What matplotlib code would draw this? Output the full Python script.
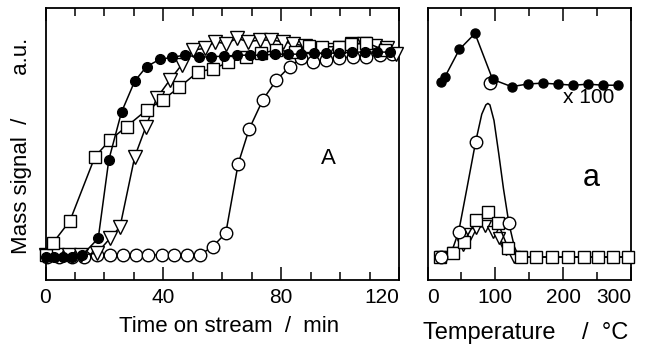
import matplotlib
matplotlib.use("Agg")
import matplotlib.pyplot as plt
from matplotlib.ticker import MultipleLocator

plt.rcParams['font.family'] = ['Liberation Sans', 'DejaVu Sans']

# ---------------- Panel A: time on stream ----------------
fc_t = [0, 3, 6, 9, 12.5, 17.9, 21.5, 25.8, 30.3, 34.3, 38.8, 43.1, 47.5, 52, 56.3,
        60.6, 65, 69.3, 73.6, 78, 82.3, 86.6, 91, 95.3, 99.6, 104, 108.3, 112.6, 117]
fc_y = [0.0, 0.0, 0.0, 0.0, 0.01, 0.09, 0.47, 0.70, 0.85, 0.92, 0.955, 0.965, 0.976, 0.965, 0.968,
        0.97, 0.975, 0.975, 0.975, 0.98, 0.98, 0.98, 0.985, 0.985, 0.985, 0.99, 0.99, 0.99, 0.99]

sq_t = [0, 2.4, 8.3, 16.8, 21.9, 27.5, 34.3, 39.9, 45.4, 51.8, 56.7, 62, 68.2, 73.3, 78.1,
        84.6, 89.4, 94, 99.8, 103.8, 108.9, 115.1]
sq_y = [0.01, 0.066, 0.175, 0.485, 0.565, 0.63, 0.71, 0.76, 0.82, 0.895, 0.908, 0.94, 0.967, 0.984, 1.0,
        0.99, 1.02, 1.016, 1.016, 1.03, 1.035, 1.0]

tr_t = [0, 4, 8, 12, 17.4, 21.9, 25.3, 30.3, 34.1, 37.7, 42.2, 46.2, 50.1, 54.1, 57.5, 61.4, 65,
        68.7, 72.7, 76.7, 80.6, 84, 88, 92, 96, 100, 104, 108, 112, 116, 119]
tr_y = [0.01, 0.01, 0.01, 0.01, 0.018, 0.09, 0.146, 0.485, 0.63, 0.767, 0.855, 0.928, 1.0, 1.008, 1.04,
        1.03, 1.057, 1.04, 1.048, 1.048, 1.04, 1.03, 1.02, 1.0, 1.0, 1.01, 1.03, 1.03, 1.02, 1.01, 0.98]

oc_t = [0.4, 4.7, 9, 13.1, 17.4, 21.9, 26.2, 30.7, 34.8, 39.4, 43.6, 47.9, 52.4, 56.7, 61.2, 65.4,
        69.1, 73.8, 78.4, 82.9, 86.8, 90.8, 95.3, 99.8, 104.3, 108.9, 113.4, 117.5]
oc_y = [0.0, 0.0, 0.0, 0.0, 0.01, 0.01, 0.01, 0.01, 0.01, 0.01, 0.01, 0.01, 0.01, 0.05, 0.115, 0.45,
        0.617, 0.76, 0.855, 0.92, 0.96, 0.943, 0.95, 0.96, 0.968, 0.968, 0.976, 0.98]

time_ticks = [0, 40, 80, 120]

# ---------------- Panel a: temperature ----------------
tfc_T = [20.5, 25.3, 47, 70, 96, 124, 148, 170, 193, 215, 237, 259, 281]
tfc_y = [0.847, 0.868, 1.003, 1.08, 0.858, 0.823, 0.836, 0.84, 0.835, 0.83, 0.835, 0.83, 0.83]

toc_T = [20, 46, 71, 92, 120]
toc_y = [0.0, 0.123, 0.557, 0.843, 0.163]
# fitted curve through open circles
fit_T = [25, 35, 46, 58, 71, 80, 86, 89, 92, 98, 105, 112, 120, 128, 135, 300]
fit_y = [0.0, 0.02, 0.123, 0.33, 0.557, 0.69, 0.735, 0.742, 0.735, 0.66, 0.5, 0.33, 0.163, 0.05, 0.0, 0.0]

tsq_T = [18, 38, 54, 72, 89, 104, 119, 138, 160, 183, 207, 230, 252, 274, 296]
tsq_y = [0.0, 0.018, 0.074, 0.18, 0.216, 0.163, 0.042, 0.0, 0.0, 0.0, 0.0, 0.0, 0.0, 0.0, 0.0]

ttr_T = [20, 37, 52, 62, 72, 85, 97, 106, 116, 127, 138]
ttr_y = [0.0, 0.02, 0.06, 0.11, 0.14, 0.15, 0.12, 0.09, 0.04, 0.0, 0.0]

temp_ticks = [0, 100, 200, 300]

fig = plt.figure(figsize=(6.54, 3.47), dpi=100)
axA = fig.add_axes([45.5 / 654, 1 - 280 / 347, (399 - 45.5) / 654, 272 / 347])
axa = fig.add_axes([427.5 / 654, 1 - 280 / 347, (631 - 427.5) / 654, 272 / 347])

lw = 1.1
mew = 1.0
k = 'black'

axA.plot(oc_t, oc_y, '-', color=k, lw=lw, marker='o', ms=9, mfc='white', mec=k, mew=mew, clip_on=False, zorder=2)
axA.plot(tr_t, tr_y, '-', color=k, lw=lw, marker='v', ms=9.5, mfc='white', mec=k, mew=mew, clip_on=False, zorder=3)
axA.plot(sq_t, sq_y, '-', color=k, lw=lw, marker='s', ms=8, mfc='white', mec=k, mew=mew, clip_on=False, zorder=4)
axA.plot(fc_t, fc_y, '-', color=k, lw=lw, marker='o', ms=7, mfc=k, mec=k, mew=mew, clip_on=False, zorder=5)

axa.plot(fit_T, fit_y, '-', color=k, lw=lw, zorder=2)
axa.plot(ttr_T, ttr_y, '-', color=k, lw=lw, marker='v', ms=9, mfc='white', mec=k, mew=mew, clip_on=False, zorder=3)
axa.plot(tsq_T, tsq_y, '-', color=k, lw=lw, marker='s', ms=8, mfc='white', mec=k, mew=mew, clip_on=False, zorder=4)
axa.plot(toc_T, toc_y, 'o', ms=9, mfc='white', mec=k, mew=mew, clip_on=False, zorder=5)
axa.plot(tfc_T, tfc_y, '-', color=k, lw=lw, marker='o', ms=6.5, mfc=k, mec=k, mew=mew, clip_on=False, zorder=6)

for ax in (axA, axa):
    ax.set_ylim(-0.111, 1.203)
    ax.set_yticks([])
    for s in ax.spines.values():
        s.set_linewidth(1.3)
    ax.tick_params(axis='x', which='both', direction='in', top=True, bottom=True,
                   labelsize=15, width=1.1, pad=6)
    ax.tick_params(axis='x', which='major', length=9.5)
    ax.tick_params(axis='x', which='minor', length=5.5)

axA.set_xlim(0, 120)
axA.set_xticks(time_ticks)
axA.xaxis.set_minor_locator(MultipleLocator(10))
axa.set_xlim(0, 300)
axa.set_xticks(temp_ticks)
axa.xaxis.set_minor_locator(MultipleLocator(50))

axA.get_xticklabels()[-1].set_horizontalalignment('right')
axa.get_xticklabels()[0].set_horizontalalignment('left')
axa.get_xticklabels()[-1].set_horizontalalignment('right')

axA.text(96, 0.478, 'A', fontsize=16, ha='center', va='center')
axa.text(242, 0.38, 'a', fontsize=22, ha='center', va='center')
axa.text(237, 0.77, 'x 100', fontsize=15, ha='center', va='center')

fig.text(229 / 654, 1 - 326 / 347, 'Time on stream  /  min', fontsize=16, ha='center', va='center')
fig.text(526 / 654, 1 - 333 / 347, 'Temperature    /  \u00b0C', fontsize=17, ha='center', va='center')
fig.text(22 / 654, 1 - 146 / 347, 'Mass signal  /       a.u.', fontsize=16, ha='center', va='center', rotation=90)

fig.savefig('out.png', dpi=100)
